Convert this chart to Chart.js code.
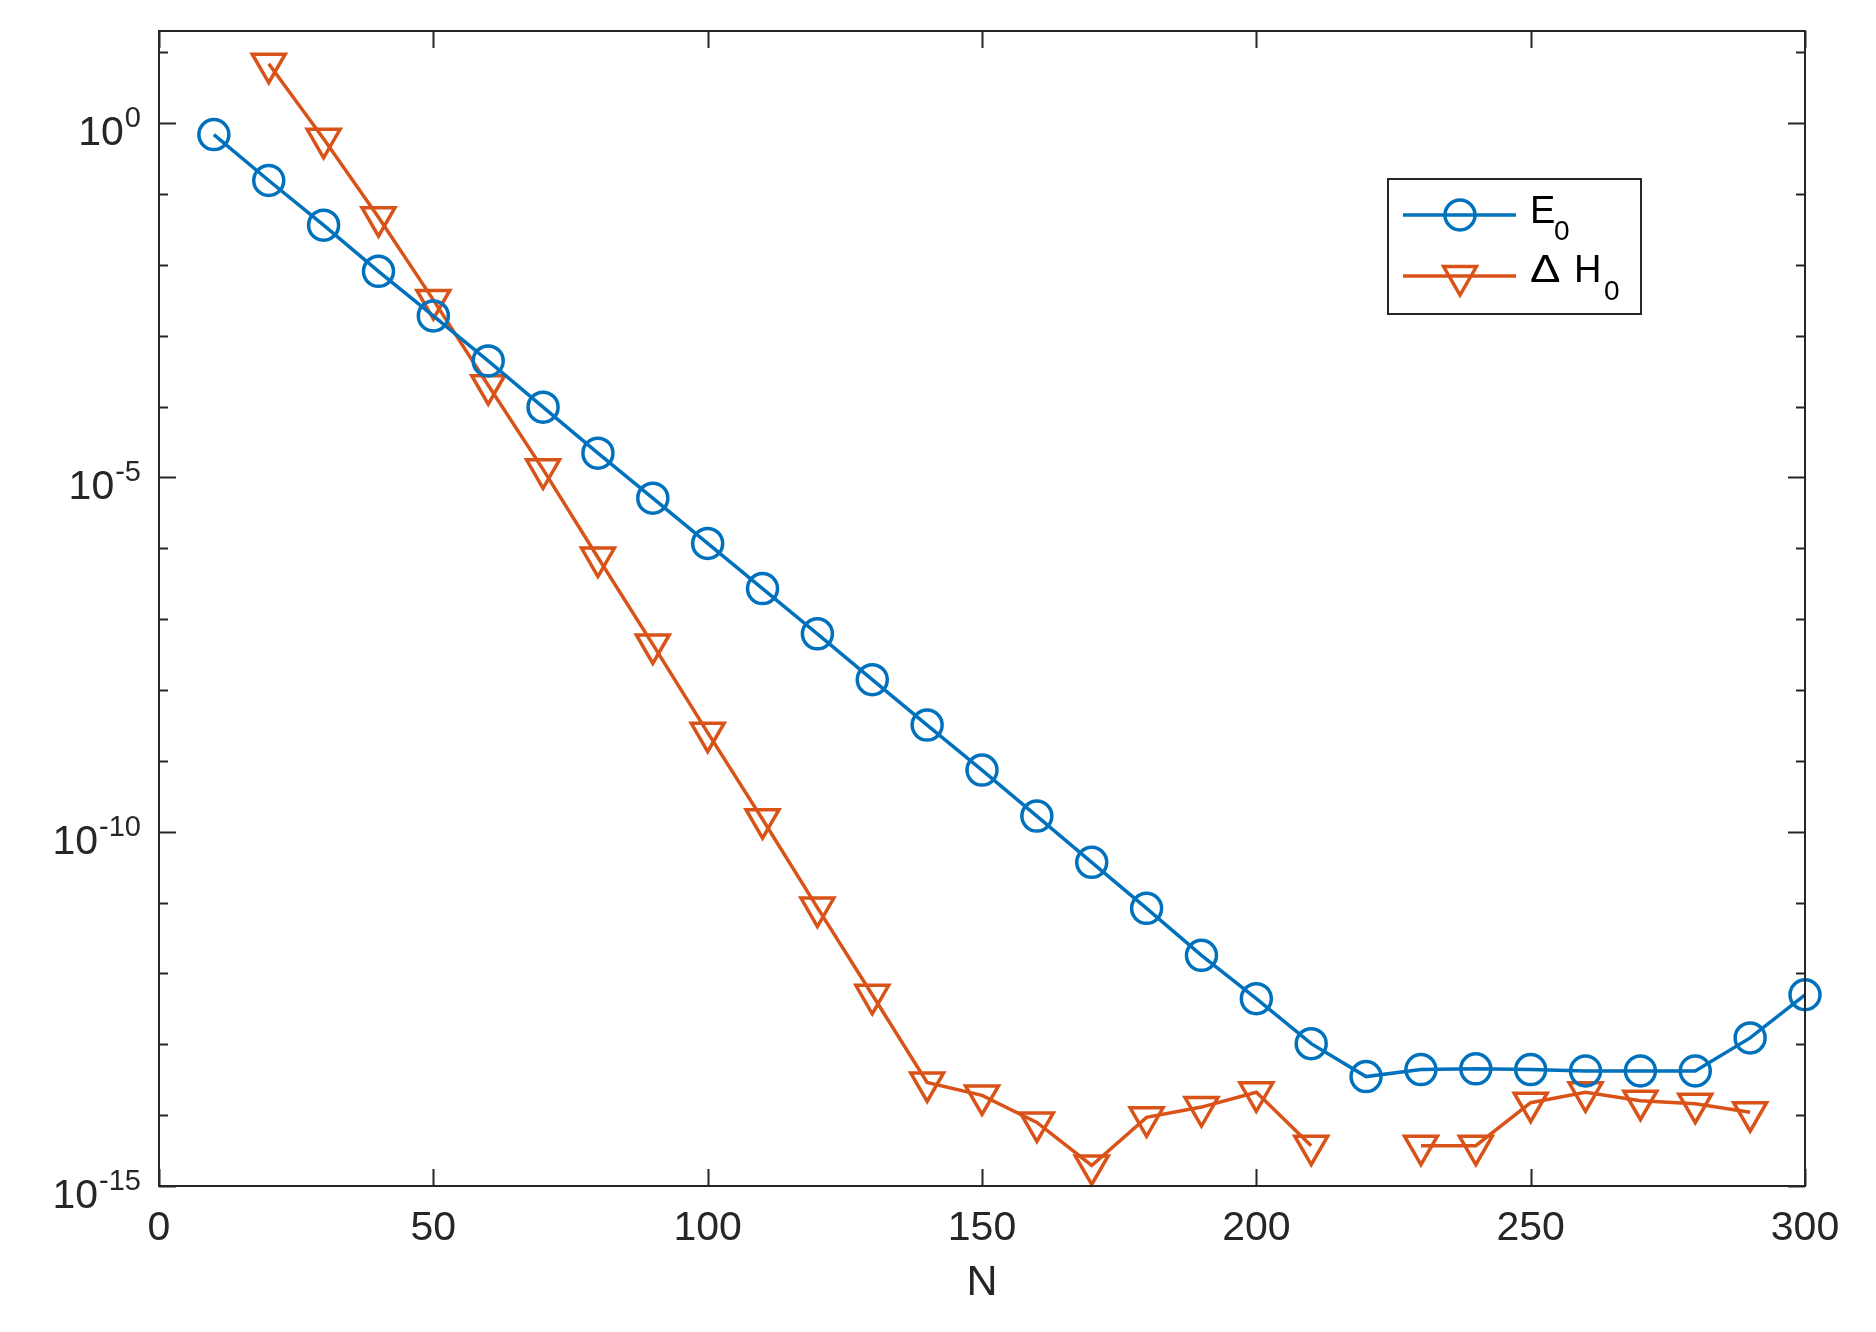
<!DOCTYPE html>
<html>
<head>
<meta charset="utf-8">
<script src="https://cdn.jsdelivr.net/npm/chart.js@4.4.1/dist/chart.umd.min.js"></script>
<style>
  html, body { margin: 0; padding: 0; background: #fff; }
  #wrap { width: 1876px; height: 1332px; }
</style>
</head>
<body>
<div id="wrap"><canvas id="c" width="1876" height="1332"></canvas></div>
<script>
// values (log axis)
const nValues = [10, 20, 30, 40, 50, 60, 70, 80, 90, 100,
                 110, 120, 130, 140, 150, 160, 170, 180, 190, 200,
                 210, 220, 230, 240, 250, 260, 270, 280, 290, 300];
const e0Values = [0.69, 0.155, 0.0363, 8.1e-3, 1.9e-3, 4.4e-4, 9.8e-5, 2.2e-5, 5.1e-6, 1.17e-6,
                  2.7e-7, 6.2e-8, 1.4e-8, 3.2e-9, 7.4e-10, 1.66e-10, 3.7e-11, 8.3e-12, 1.8e-12, 4.4e-13,
                  1.02e-13, 3.5e-14, 4.4e-14, 4.5e-14, 4.4e-14, 4.2e-14, 4.2e-14, 4.2e-14, 1.23e-13, 5.0e-13];
const dh0Values = [null, 6.9, 0.60, 0.047, 3.2e-3, 2.0e-4, 1.3e-5, 7.4e-7, 4.4e-8, 2.5e-9,
                   1.5e-10, 8.5e-12, 5.0e-13, 2.9e-14, 1.9e-14, 7.9e-15, 1.95e-15, 9.3e-15, 1.3e-14, 2.1e-14,
                   3.7e-15, null, 3.7e-15, 3.7e-15, 1.5e-14, 2.1e-14, 1.6e-14, 1.45e-14, 1.1e-14];
const xTicks = [0, 50, 100, 150, 200, 250, 300];
const yLabelExps = [0, -5, -10, -15];
const yMinorExps = [1, 0, -1, -2, -3, -4, -5, -6, -7, -8, -9, -10, -11, -12, -13, -14, -15];

const BLUE = '#0072BD', ORANGE = '#D95319', INK = '#262626';
const FONT = '"Liberation Sans", Arial, Helvetica, sans-serif';

const matlabAxes = {
  id: 'matlabAxes',
  beforeDraw(chart) {
    const ctx = chart.ctx;
    ctx.save(); ctx.fillStyle = '#fff'; ctx.fillRect(0, 0, chart.width, chart.height); ctx.restore();
  },
  afterDraw(chart) {
    const ctx = chart.ctx, a = chart.chartArea, x = chart.scales.x, y = chart.scales.y;
    const major = 17, minor = 9;
    ctx.save();
    ctx.strokeStyle = INK; ctx.lineWidth = 2;
    ctx.strokeRect(a.left, a.top, a.right - a.left, a.bottom - a.top);

    ctx.beginPath();
    xTicks.forEach(v => {
      const px = Math.round(x.getPixelForValue(v)) + 0.5;
      ctx.moveTo(px, a.bottom); ctx.lineTo(px, a.bottom - major);
      ctx.moveTo(px, a.top); ctx.lineTo(px, a.top + major);
    });
    yMinorExps.forEach(e => {
      const py = Math.round(y.getPixelForValue(Math.pow(10, e))) + 0.5;
      const len = yLabelExps.includes(e) ? major : minor;
      ctx.moveTo(a.left, py); ctx.lineTo(a.left + len, py);
      ctx.moveTo(a.right, py); ctx.lineTo(a.right - len, py);
    });
    ctx.stroke();

    ctx.fillStyle = INK;
    ctx.textAlign = 'center'; ctx.textBaseline = 'alphabetic';
    ctx.font = '41px ' + FONT;
    xTicks.forEach(v => ctx.fillText(String(v), x.getPixelForValue(v), 1240));
    ctx.font = '43px ' + FONT;
    ctx.fillText('N', (a.left + a.right) / 2, 1295);

    ctx.textAlign = 'left';
    yLabelExps.forEach(e => {
      const py = y.getPixelForValue(Math.pow(10, e));
      const es = String(e);
      ctx.font = '29px ' + FONT;
      const ew = ctx.measureText(es).width;
      ctx.fillText(es, 141 - ew, py + 4);
      ctx.font = '41px ' + FONT;
      const bw = ctx.measureText('10').width;
      ctx.fillText('10', 141 - ew - bw - 1, py + 22);
    });

    // legend
    const lx = 1388, ly = 179, lw = 253, lh = 135;
    ctx.fillStyle = '#fff'; ctx.fillRect(lx, ly, lw, lh);
    ctx.strokeStyle = INK; ctx.lineWidth = 2; ctx.strokeRect(lx, ly, lw, lh);
    const rows = [{ y: 215, color: BLUE, style: 'circle' }, { y: 276, color: ORANGE, style: 'tri' }];
    rows.forEach(r => {
      ctx.strokeStyle = r.color; ctx.lineWidth = 3.5;
      ctx.beginPath(); ctx.moveTo(1403, r.y); ctx.lineTo(1516, r.y); ctx.stroke();
      ctx.beginPath();
      if (r.style === 'circle') {
        ctx.arc(1460, r.y, 15, 0, Math.PI * 2);
      } else {
        const rr = 19;
        ctx.moveTo(1460 - rr * 0.866, r.y - rr / 2);
        ctx.lineTo(1460 + rr * 0.866, r.y - rr / 2);
        ctx.lineTo(1460, r.y + rr);
        ctx.closePath();
      }
      ctx.stroke();
    });
    ctx.fillStyle = '#000';
    ctx.font = '38px ' + FONT; ctx.fillText('E', 1530, 223);
    ctx.font = '28px ' + FONT; ctx.fillText('0', 1554, 240);
    ctx.save();
    ctx.translate(1530, 282); ctx.scale(1.2, 1);
    ctx.font = '38px ' + FONT; ctx.fillText('\u0394', 0, 0);
    ctx.restore();
    ctx.font = '38px ' + FONT; ctx.fillText('H', 1574, 282);
    ctx.font = '28px ' + FONT; ctx.fillText('0', 1604, 300);
    ctx.restore();
  }
};

const toPoints = vals => nValues.map((n, i) => ({ x: n, y: vals[i] === undefined ? null : vals[i] }));

new Chart(document.getElementById('c').getContext('2d'), {
  type: 'line',
  data: {
    datasets: [
      { label: 'E0', data: toPoints(e0Values), borderColor: BLUE, borderWidth: 3.5,
        pointStyle: 'circle', pointRadius: 15, pointBorderWidth: 3.5, pointBorderColor: BLUE,
        pointBackgroundColor: 'rgba(0,0,0,0)', fill: false, tension: 0, clip: false },
      { label: 'ΔH0', data: toPoints(dh0Values), borderColor: ORANGE, borderWidth: 3.5,
        pointStyle: 'triangle', rotation: 180, pointRadius: 19, pointBorderWidth: 3.5, pointBorderColor: ORANGE,
        pointBackgroundColor: 'rgba(0,0,0,0)', fill: false, tension: 0, clip: false, spanGaps: false }
    ]
  },
  options: {
    responsive: false, animation: false, devicePixelRatio: 1,
    layout: { padding: { left: 159, top: 31, right: 71, bottom: 146 } },
    plugins: { legend: { display: false }, tooltip: { enabled: false } },
    scales: {
      x: { type: 'linear', min: 0, max: 300, display: false },
      y: { type: 'logarithmic', min: 1e-15, max: Math.pow(10, 1.3), display: false }
    }
  },
  plugins: [matlabAxes]
});
</script>
</body>
</html>
